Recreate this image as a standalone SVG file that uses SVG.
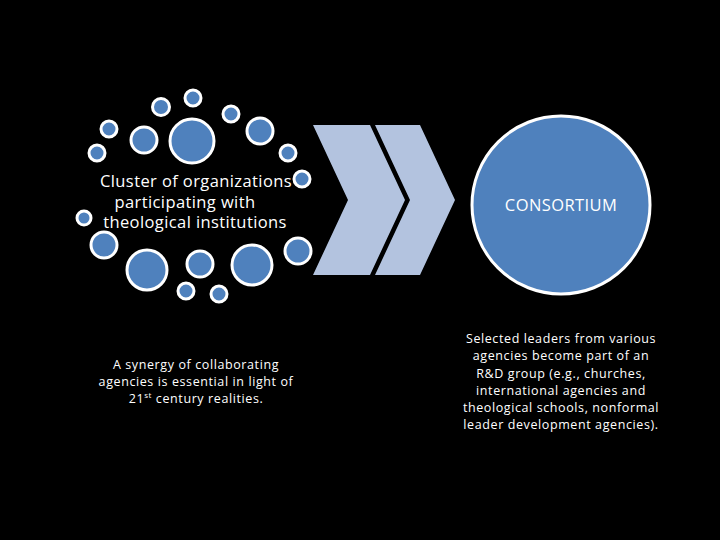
<svg xmlns="http://www.w3.org/2000/svg" width="720" height="540" viewBox="0 0 720 540">
<style>
.c{fill:#4f81bd;stroke:#fff;stroke-width:3}
.t{font-family:"Open Sans","Liberation Sans",sans-serif;fill:#fff;text-anchor:middle}
.b{font-size:16.5px;letter-spacing:0.4px}
.s{font-size:12.5px;letter-spacing:0.6px}
.ch{fill:#b3c3df}
</style>
<rect width="720" height="540" fill="#000"/>
<g id="cluster">
<circle class="c" cx="193" cy="98" r="8"/>
<circle class="c" cx="161" cy="107" r="8.5"/>
<circle class="c" cx="231" cy="114" r="8"/>
<circle class="c" cx="109" cy="129" r="8"/>
<circle class="c" cx="144" cy="140" r="13"/>
<circle class="c" cx="192" cy="141" r="22"/>
<circle class="c" cx="260" cy="131" r="13"/>
<circle class="c" cx="97" cy="153" r="8"/>
<circle class="c" cx="288" cy="153" r="8"/>
<circle class="c" cx="302" cy="179" r="8"/>
<circle class="c" cx="84" cy="218" r="7"/>
<circle class="c" cx="104" cy="245" r="13"/>
<circle class="c" cx="147" cy="270" r="20"/>
<circle class="c" cx="200" cy="264" r="13"/>
<circle class="c" cx="252" cy="265" r="20"/>
<circle class="c" cx="298" cy="251" r="13"/>
<circle class="c" cx="186" cy="291" r="8"/>
<circle class="c" cx="219" cy="294" r="8"/>
<text class="t b" x="196" y="187">Cluster of organizations</text>
<text class="t b" x="185" y="208">participating with</text>
<text class="t b" x="195" y="228">theological institutions</text>
</g>
<g id="arrows">
<polygon class="ch" points="313,125 370,125 405,200 370,275 313,275 348,200"/>
<polygon class="ch" points="375,125 420,125 455,200 420,275 375,275 410,200"/>
</g>
<g id="consortium">
<circle cx="561" cy="205" r="89" fill="#4f81bd" stroke="#fff" stroke-width="3"/>
<text class="t b" x="561" y="211">CONSORTIUM</text>
</g>
<g id="note-left">
<text class="t s" x="196" y="369">A synergy of collaborating</text>
<text class="t s" x="196" y="386">agencies is essential in light of</text>
<text class="t s" x="196" y="403">21<tspan font-size="8" dy="-5">st</tspan><tspan dy="5"> century realities.</tspan></text>
</g>
<g id="note-right">
<text class="t s" x="561" y="343">Selected leaders from various</text>
<text class="t s" x="561" y="360">agencies become part of an</text>
<text class="t s" x="561" y="378">R&amp;D group (e.g., churches,</text>
<text class="t s" x="561" y="395">international agencies and</text>
<text class="t s" x="561" y="412">theological schools, nonformal</text>
<text class="t s" x="561" y="429">leader development agencies).</text>
</g>
</svg>
